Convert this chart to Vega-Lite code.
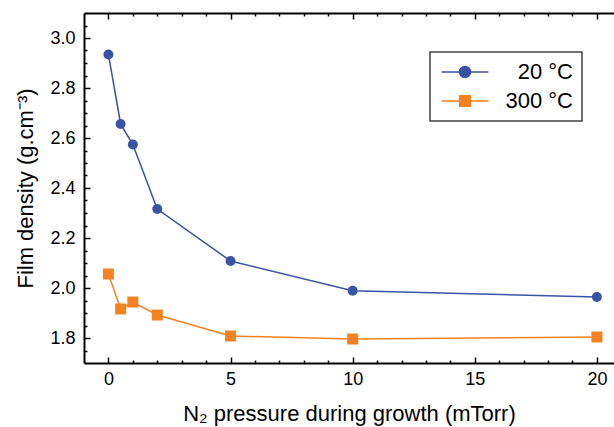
{
  "$schema": "https://vega.github.io/schema/vega-lite/v6.json",
  "width": 530,
  "height": 350,
  "autosize": "none",
  "padding": {"left": 84, "top": 13, "right": 0, "bottom": 64},
  "config": {
    "view": {"stroke": null},
    "font": "Liberation Sans",
    "axis": {"grid": false, "domainColor": "black", "domainWidth": 2, "tickColor": "black", "tickWidth": 1.5, "labelColor": "black", "labelFont": "Liberation Sans", "titleFont": "Liberation Sans", "titleColor": "black", "titleFontWeight": "normal", "labelOverlap": false, "labelBound": false, "titleLimit": 500}
  },
  "data": {
    "values": [
      {"series": "20 °C", "p": 0, "d": 2.934},
      {"series": "20 °C", "p": 0.5, "d": 2.656},
      {"series": "20 °C", "p": 1, "d": 2.574},
      {"series": "20 °C", "p": 2, "d": 2.316},
      {"series": "20 °C", "p": 5, "d": 2.108},
      {"series": "20 °C", "p": 10, "d": 1.989},
      {"series": "20 °C", "p": 20, "d": 1.964},
      {"series": "300 °C", "p": 0, "d": 2.056},
      {"series": "300 °C", "p": 0.5, "d": 1.916},
      {"series": "300 °C", "p": 1, "d": 1.944},
      {"series": "300 °C", "p": 2, "d": 1.892},
      {"series": "300 °C", "p": 5, "d": 1.808},
      {"series": "300 °C", "p": 10, "d": 1.796},
      {"series": "300 °C", "p": 20, "d": 1.804}
    ]
  },
  "layer": [
    {
      "mark": {"type": "line", "strokeWidth": 1.5},
      "encoding": {
        "x": {
          "field": "p", "type": "quantitative",
          "scale": {"domain": [-1, 20.7], "nice": false, "zero": false},
          "axis": {
            "orient": "bottom",
            "values": [0,1,2,3,4,5,6,7,8,9,10,11,12,13,14,15,16,17,18,19,20],
            "labelExpr": "datum.value % 5 === 0 ? datum.label : ''",
            "tickSize": {"condition": {"test": "datum.value % 5 === 0", "value": -6}, "value": -3},
            "labelFontSize": 18,
            "labelPadding": 13,
            "title": "N₂ pressure during growth (mTorr)",
            "titleFontSize": 22,
            "titlePadding": 12
          }
        },
        "y": {
          "field": "d", "type": "quantitative",
          "scale": {"domain": [1.7, 3.1], "nice": false, "zero": false},
          "axis": {
            "orient": "left",
            "values": [1.8, 2.0, 2.2, 2.4, 2.6, 2.8, 3.0],
            "format": ".1f",
            "tickSize": -6,
            "labelFontSize": 18,
            "labelPadding": 15,
            "title": "Film density (g.cm⁻³)",
            "titleFontSize": 22,
            "titlePadding": 12
          }
        },
        "color": {
          "field": "series", "type": "nominal",
          "scale": {"domain": ["20 °C", "300 °C"], "range": ["#3953a5", "#f58220"]},
          "legend": {
            "title": null,
            "orient": "none",
            "legendX": 346,
            "legendY": 39,
            "padding": 9,
            "strokeColor": "#444444",
            "labelFontSize": 22,
            "labelFont": "Liberation Sans",
            "labelColor": "black",
            "labelAlign": "right",
            "symbolSize": 121,
            "symbolOffset": 15,
            "labelOffset": 97,
            "rowPadding": 7,
            "encode": {
              "legend": {"update": {"strokeWidth": {"value": 1.5}}},
              "symbols": {
                "update": {
                  "shape": [
                    {"test": "datum.value === '20 °C'", "value": "M-4.27,0H4.27M-1,0A1,1 0 1,1 1,0A1,1 0 1,1 -1,0Z"},
                    {"value": "M-4.27,0H4.27M-0.97,-0.97H0.97V0.97H-0.97Z"}
                  ],
                  "fill": {"scale": "color", "field": "value"},
                  "stroke": {"scale": "color", "field": "value"},
                  "strokeWidth": {"value": 1.5},
                  "opacity": {"value": 1}
                }
              }
            }
          }
        }
      }
    },
    {
      "transform": [{"filter": "datum.series === '20 °C'"}],
      "mark": {"type": "point", "filled": true, "opacity": 1, "shape": "circle", "size": 100, "color": "#3953a5"},
      "encoding": {
        "x": {
          "field": "p", "type": "quantitative",
          "axis": {
            "orient": "top",
            "values": [0,1,2,3,4,5,6,7,8,9,10,11,12,13,14,15,16,17,18,19,20],
            "labels": false,
            "title": null,
            "tickSize": {"condition": {"test": "datum.value % 5 === 0", "value": -6}, "value": -3}
          }
        },
        "y": {
          "field": "d", "type": "quantitative",
          "axis": {
            "orient": "left",
            "values": [1.75,1.85,1.9,1.95,2.05,2.1,2.15,2.25,2.3,2.35,2.45,2.5,2.55,2.65,2.7,2.75,2.85,2.9,2.95,3.05],
            "labels": false,
            "domain": false,
            "title": null,
            "tickSize": -3
          }
        }
      }
    },
    {
      "transform": [{"filter": "datum.series === '300 °C'"}],
      "mark": {"type": "point", "filled": true, "opacity": 1, "shape": "square", "size": 121, "color": "#f58220"},
      "encoding": {
        "x": {"field": "p", "type": "quantitative", "axis": null},
        "y": {"field": "d", "type": "quantitative", "axis": null}
      }
    }
  ],
  "resolve": {"axis": {"x": "independent", "y": "independent"}}
}
